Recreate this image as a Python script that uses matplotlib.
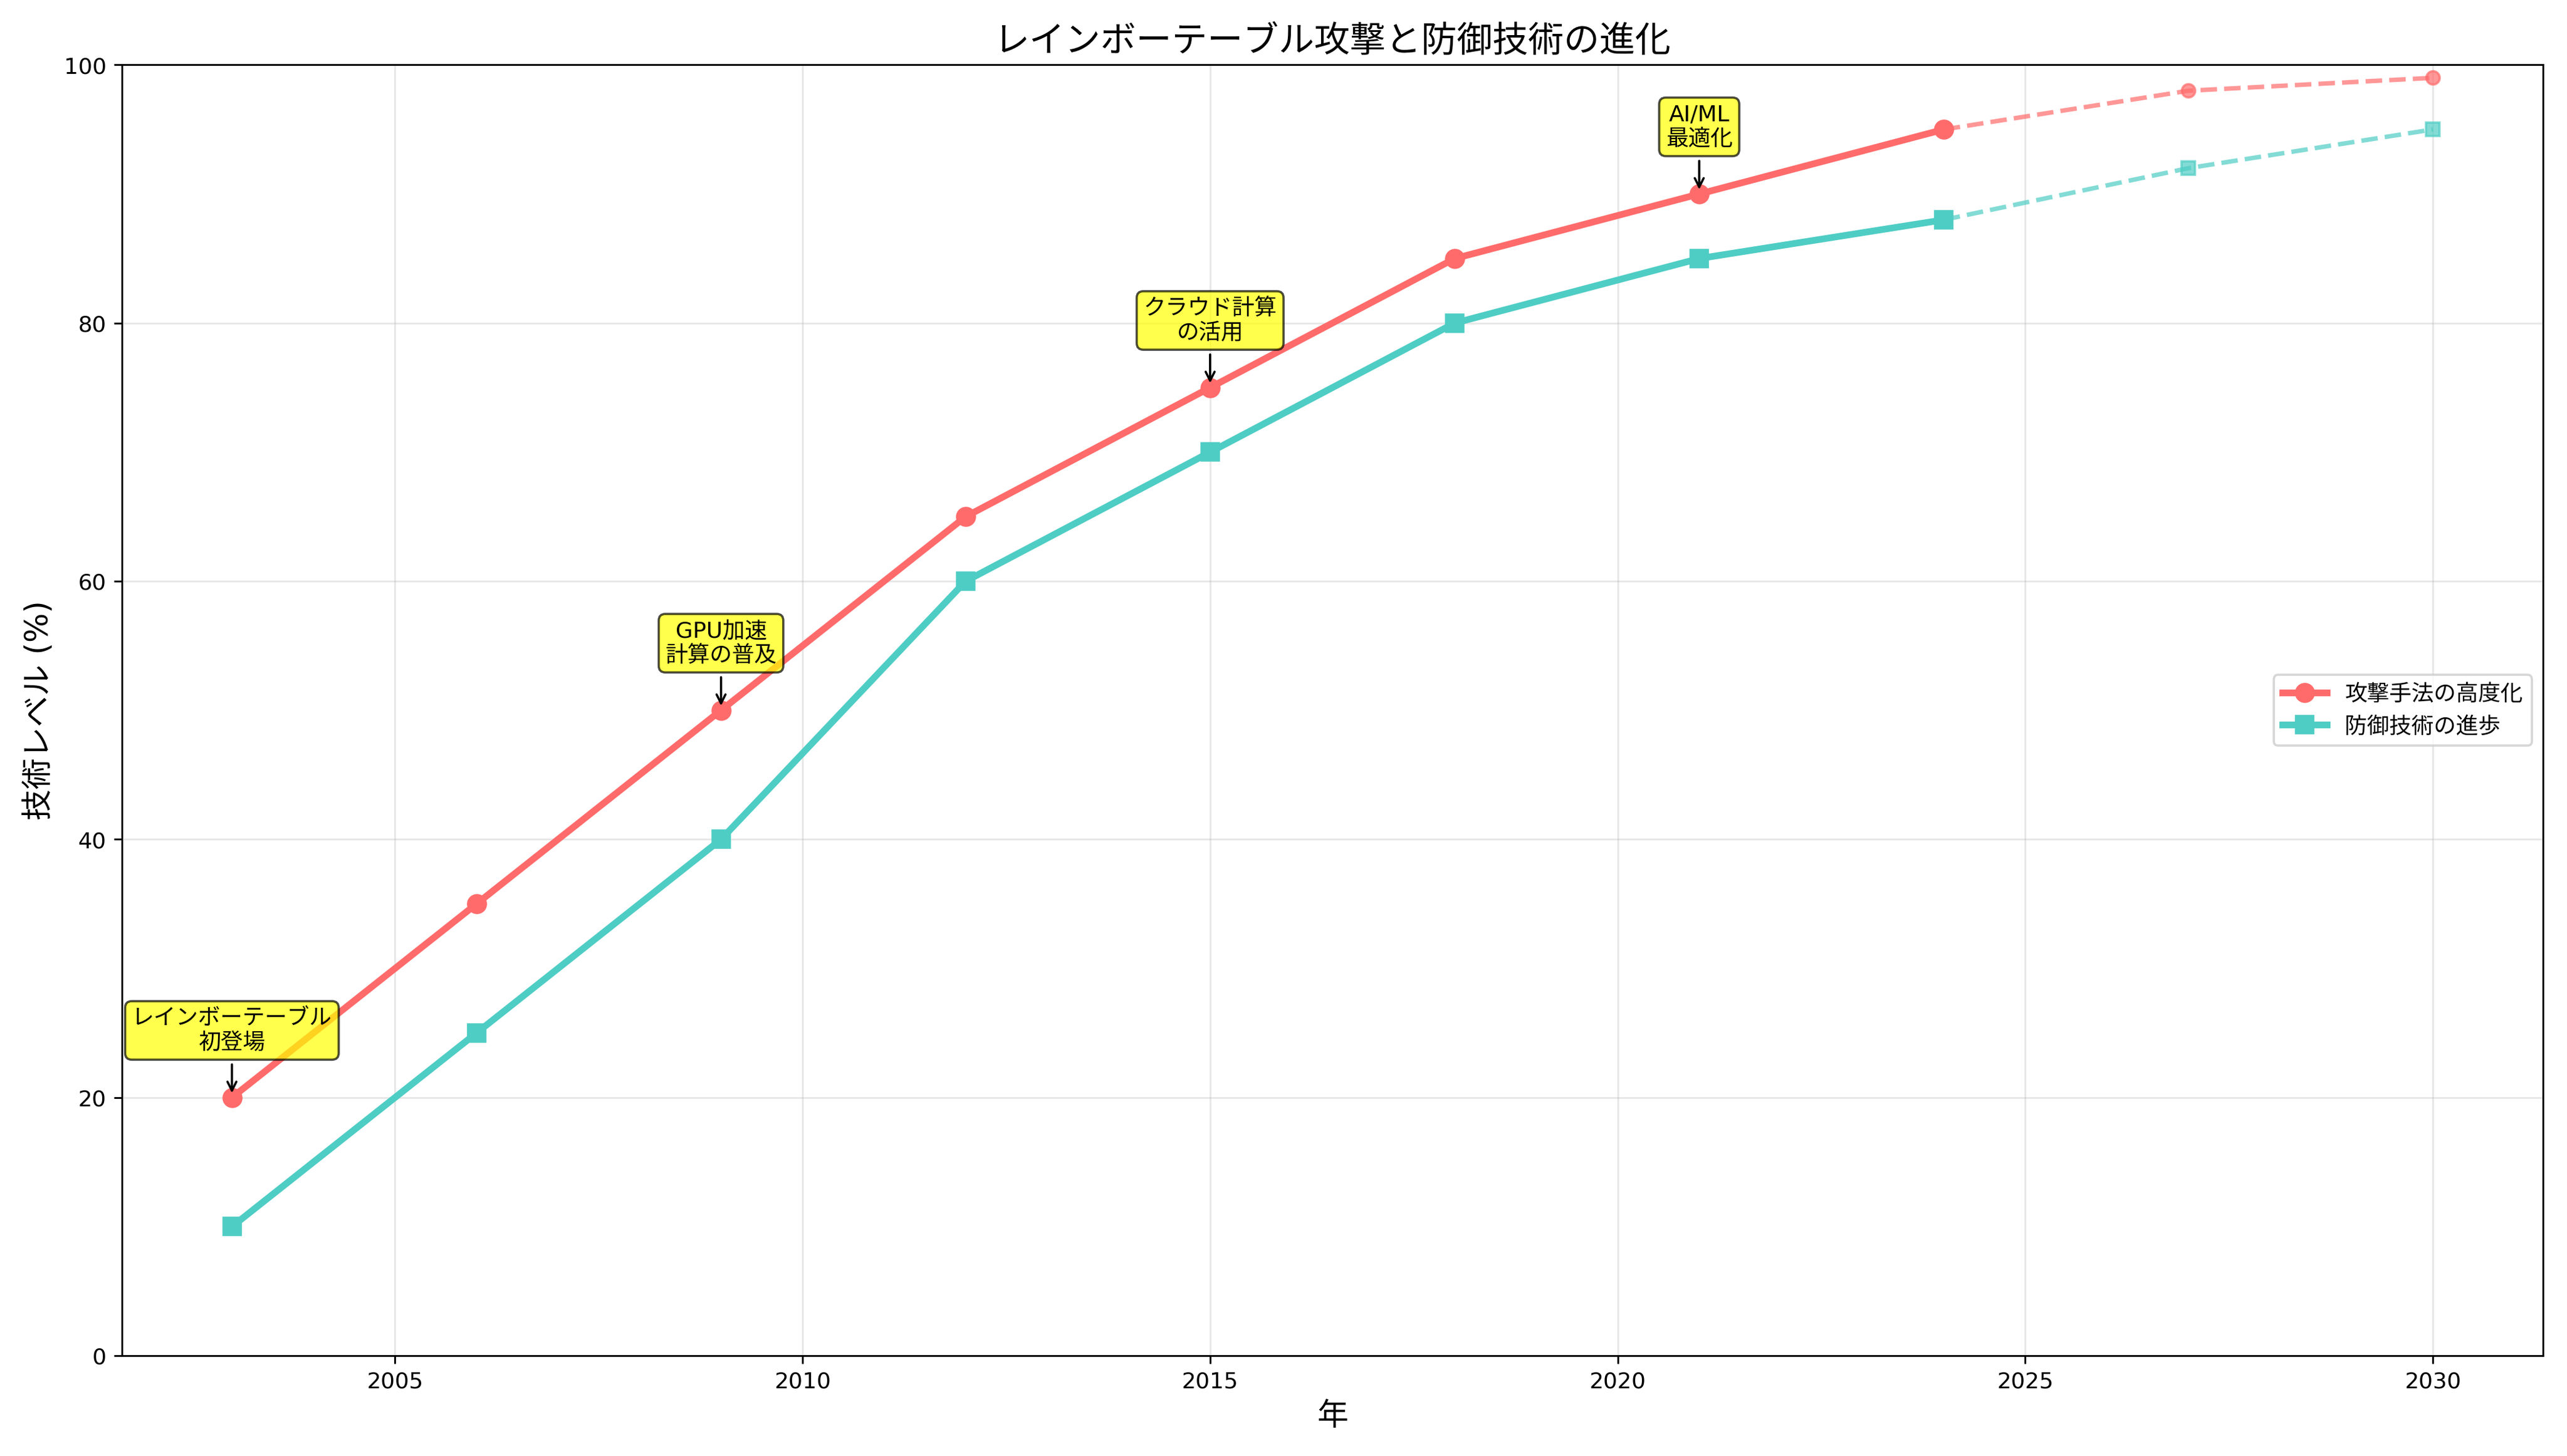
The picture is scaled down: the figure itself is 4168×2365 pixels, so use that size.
import matplotlib.pyplot as plt

plt.rcParams['font.family'] = ['DejaVu Sans', 'Noto Sans CJK JP']

years = [2003, 2006, 2009, 2012, 2015, 2018, 2021, 2024]
attack = [20, 35, 50, 65, 75, 85, 90, 95]
defense = [10, 25, 40, 60, 70, 80, 85, 88]

future_years = [2024, 2027, 2030]
attack_future = [95, 98, 99]
defense_future = [88, 92, 95]

events = [(2003, 20, 'レインボーテーブル\n初登場'),
          (2009, 50, 'GPU加速\n計算の普及'),
          (2015, 75, 'クラウド計算\nの活用'),
          (2021, 90, 'AI/ML\n最適化')]

fig, ax = plt.subplots(figsize=(16, 9.08), dpi=260.5)

ax.plot(years, attack, color='#FF6B6B', marker='o', linewidth=3, markersize=8, label='攻撃手法の高度化')
ax.plot(years, defense, color='#4ECDC4', marker='s', linewidth=3, markersize=8, label='防御技術の進歩')
ax.plot(future_years, attack_future, color='#FF6B6B', marker='o', linestyle='--', linewidth=2, markersize=6, alpha=0.7)
ax.plot(future_years, defense_future, color='#4ECDC4', marker='s', linestyle='--', linewidth=2, markersize=6, alpha=0.7)

for x, y, text in events:
    ax.annotate(text, xy=(x, y), xytext=(0, 20), textcoords='offset points',
                ha='center', va='bottom', fontsize=10,
                bbox=dict(boxstyle='round,pad=0.3', facecolor='yellow', alpha=0.7),
                arrowprops=dict(arrowstyle='->', color='black'))

ax.set_ylim(0, 100)
ax.set_xlabel('年', fontsize=14)
ax.set_ylabel('技術レベル (%)', fontsize=14)
ax.set_title('レインボーテーブル攻撃と防御技術の進化', fontsize=16)
ax.grid(True, alpha=0.3)
ax.legend(loc='center right')

plt.tight_layout()
plt.savefig('out.png')
